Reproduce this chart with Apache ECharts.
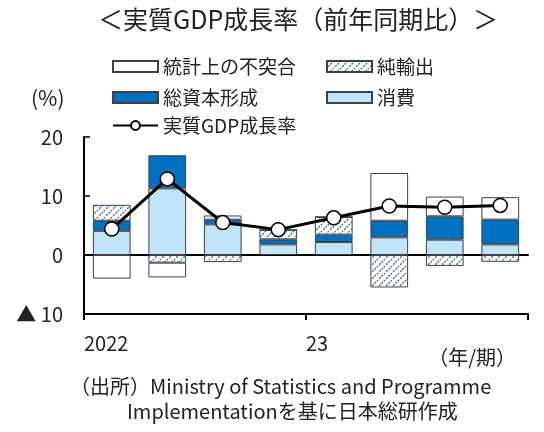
<!DOCTYPE html>
<html>
<head>
<meta charset="utf-8">
<script src="https://cdn.jsdelivr.net/npm/echarts@6/dist/echarts.min.js"></script>
<style>
  html, body { margin: 0; padding: 0; background: #fff; }
  #chart { width: 544px; height: 432px; }
</style>
</head>
<body>
<div id="chart"></div>
<script>
// 四半期（2022〜2023）
var quarters = ['2022Q1', '2022Q2', '2022Q3', '2022Q4', '2023Q1', '2023Q2', '2023Q3', '2023Q4'];
var yearLabels = ['2022', '23', ''];
// 寄与度（%pt）
var consumption = [4.1, 11.3, 5.2, 1.8, 2.2, 3.0, 2.6, 1.8];
var capital = [1.7, 5.6, 0.8, 0.85, 1.25, 2.8, 3.95, 4.2];
var netExports = [2.7, -1.3, -1.2, 1.6, 3.0, -5.5, -1.85, -1.15];
var discrepancy = [-4.0, -2.5, 0.7, 0, 0, 8.1, 3.35, 3.8];
// 実質GDP成長率
var gdp = [4.4, 12.9, 5.5, 4.3, 6.3, 8.3, 8.1, 8.4];

var FONT = '"Noto Sans CJK JP", "Noto Sans", sans-serif';

// 斜線パターン
function hatch() {
    var c = document.createElement('canvas');
    c.width = 7; c.height = 7;
    var ctx = c.getContext('2d');
    ctx.fillStyle = '#fff';
    ctx.fillRect(0, 0, 7, 7);
    ctx.strokeStyle = '#3b64ad';
    ctx.lineWidth = 1.3;
    ctx.setLineDash([2, 1.2]);
    ctx.beginPath();
    ctx.moveTo(-1, 8); ctx.lineTo(8, -1);
    ctx.stroke();
    return { image: c, repeat: 'repeat' };
}

var myChart = echarts.init(document.getElementById('chart'));

function legendAt(name, left, top, icon) {
    var lg = {
        data: [name],
        left: left,
        top: top,
        itemWidth: 45,
        itemHeight: 11,
        padding: 0,
        textStyle: { fontSize: 19, color: '#222', fontFamily: FONT }
    };
    if (icon) lg.icon = icon;
    return lg;
}

var border = { borderColor: '#404040', borderWidth: 1 };

var option = {
    animation: false,
    title: {
        text: '＜実質GDP成長率（前年同期比）＞',
        left: 93,
        top: 2,
        textStyle: { fontSize: 25, fontWeight: 'normal', color: '#222', fontFamily: FONT }
    },
    legend: [
        legendAt('統計上の不突合', 112, 57, 'rect'),
        legendAt('純輸出', 326, 57, 'rect'),
        legendAt('総資本形成', 112, 88, 'rect'),
        legendAt('消費', 326, 88, 'rect'),
        legendAt('実質GDP成長率', 112, 116)
    ],
    grid: { left: 84, right: 16, top: 137, bottom: 118 },
    xAxis: [
        {
            type: 'category',
            data: quarters,
            axisLine: { onZero: true, lineStyle: { color: '#000', width: 2 } },
            axisTick: { show: false },
            axisLabel: { show: false }
        },
        {
            type: 'value',
            min: 0,
            max: 8,
            interval: 4,
            position: 'bottom',
            axisLine: { show: true, onZero: false, lineStyle: { color: '#000', width: 2 } },
            axisTick: { show: true, length: 6, lineStyle: { color: '#000', width: 2 } },
            splitLine: { show: false },
            axisLabel: {
                align: 'left',
                margin: 19,
                fontSize: 20,
                color: '#222',
                fontFamily: FONT,
                formatter: function (v) { return yearLabels[v / 4] || ''; }
            }
        }
    ],
    yAxis: {
        type: 'value',
        min: -10,
        max: 20,
        interval: 10,
        axisLine: { show: true, lineStyle: { color: '#000', width: 2 } },
        axisTick: { show: true, inside: true, length: 6, lineStyle: { color: '#000', width: 1.5 } },
        splitLine: { show: false },
        axisLabel: {
            margin: 21,
            fontSize: 20,
            color: '#222',
            fontFamily: FONT,
            formatter: function (v) { return v < 0 ? '▲ ' + (-v) : '' + v; }
        }
    },
    graphic: [
        { type: 'text', left: 31, top: 88, style: { text: '(%)', fontSize: 21, fill: '#222', fontFamily: FONT } },
        { type: 'text', right: 28, top: 347, style: { text: '（年/期）', fontSize: 20, fill: '#222', fontFamily: FONT } },
        { type: 'text', left: 70, top: 376, style: { text: '（出所）Ministry of Statistics and Programme', fontSize: 20, fill: '#222', fontFamily: FONT } },
        { type: 'text', left: 127, top: 401, style: { text: 'Implementationを基に日本総研作成', fontSize: 20, fill: '#222', fontFamily: FONT } }
    ],
    series: [
        {
            name: '消費', type: 'bar', stack: 'c', barWidth: '68%', data: consumption,
            itemStyle: Object.assign({ color: '#c0e4fa' }, border)
        },
        {
            name: '総資本形成', type: 'bar', stack: 'c', data: capital,
            itemStyle: Object.assign({ color: '#0070c0' }, border)
        },
        {
            name: '純輸出', type: 'bar', stack: 'c', data: netExports,
            itemStyle: Object.assign({ color: hatch() }, border)
        },
        {
            name: '統計上の不突合', type: 'bar', stack: 'c', data: discrepancy,
            itemStyle: Object.assign({ color: '#fff' }, border)
        },
        {
            name: '実質GDP成長率', type: 'line', data: gdp, z: 5,
            symbol: 'circle', symbolSize: 14,
            lineStyle: { color: '#000', width: 3 },
            itemStyle: { color: '#fff', borderColor: '#000', borderWidth: 1.5 }
        }
    ]
};
myChart.setOption(option);
</script>
</body>
</html>
